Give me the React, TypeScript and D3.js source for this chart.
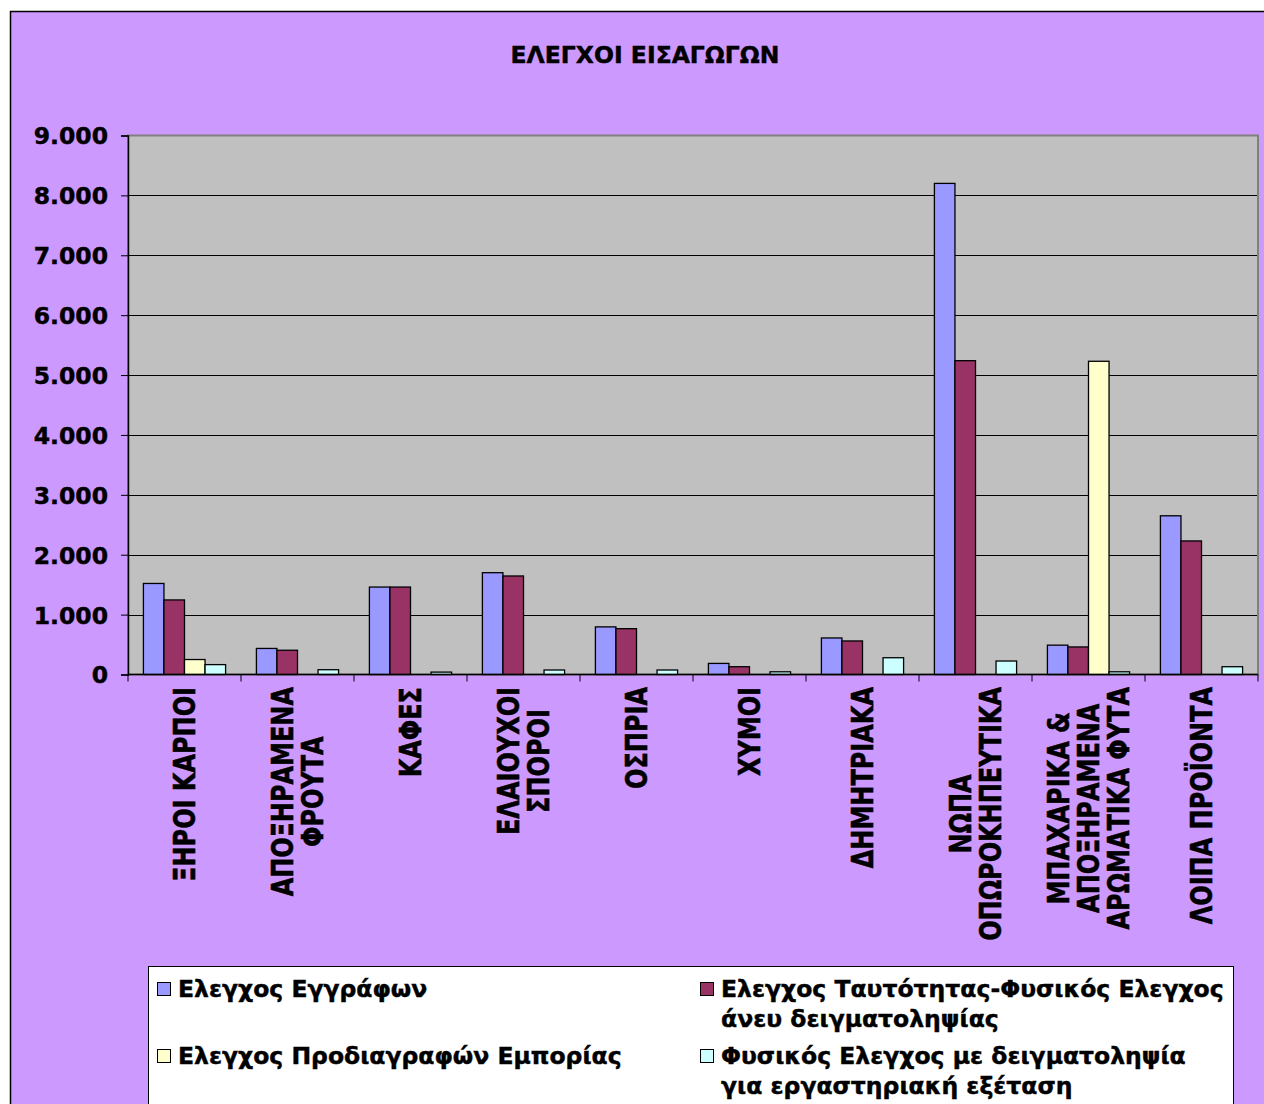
import React, { useEffect, useRef } from 'react';
import * as d3 from 'd3';

// category labels, one entry per line as they are wrapped in the chart
const categoryLines: string[][] = [
  ['ΞΗΡΟΙ ΚΑΡΠΟΙ'],
  ['ΑΠΟΞΗΡΑΜΕΝΑ', 'ΦΡΟΥΤΑ'],
  ['ΚΑΦΕΣ'],
  ['ΕΛΑΙΟΥΧΟΙ', 'ΣΠΟΡΟΙ'],
  ['ΟΣΠΡΙΑ'],
  ['ΧΥΜΟΙ'],
  ['ΔΗΜΗΤΡΙΑΚΑ'],
  ['ΝΩΠΑ', 'ΟΠΩΡΟΚΗΠΕΥΤΙΚΑ'],
  ['ΜΠΑΧΑΡΙΚΑ &', 'ΑΠΟΞΗΡΑΜΕΝΑ', 'ΑΡΩΜΑΤΙΚΑ ΦΥΤΑ'],
  ['ΛΟΙΠΑ ΠΡΟΪΟΝΤΑ'],
];

const seriesKeys = ['docs', 'identity', 'marketing', 'sampling'];
const seriesLines: string[][] = [
  ['Ελεγχος Εγγράφων'],
  ['Ελεγχος Ταυτότητας-Φυσικός Ελεγχος', 'άνευ δειγματοληψίας'],
  ['Ελεγχος Προδιαγραφών Εμπορίας'],
  ['Φυσικός Ελεγχος με δειγματοληψία', 'για εργαστηριακή εξέταση'],
];
const seriesColors = ['#9999FF', '#993366', '#FFFFCC', '#CCFFFF'];

const docChecks = [1520, 435, 1460, 1700, 795, 185, 610, 8200, 490, 2650];
const identityChecks = [1245, 405, 1460, 1645, 765, 130, 560, 5240, 460, 2230];
const marketingChecks = [250, 0, 0, 0, 0, 0, 0, 0, 5230, 0];
const samplingChecks = [165, 80, 40, 75, 75, 45, 280, 225, 45, 130];

const yTicks = [0, 1000, 2000, 3000, 4000, 5000, 6000, 7000, 8000, 9000];

const title = 'ΕΛΕΓΧΟΙ ΕΙΣΑΓΩΓΩΝ';
const FONT = '"DejaVu Sans", Verdana, sans-serif';

const ImportChecksChart: React.FC = () => {
  const ref = useRef<SVGSVGElement>(null);

  useEffect(() => {
    if (!ref.current) return;
    const svg = d3.select(ref.current);
    svg.selectAll('*').remove();

    const W = 1264;
    const H = 1104;
    const plot = { left: 128, right: 1258, top: 135.5, bottom: 674.5 };

    const catKeys = categoryLines.map((l) => l.join(' '));
    const values = [docChecks, identityChecks, marketingChecks, samplingChecks];

    const x = d3.scaleBand<string>().domain(catKeys).range([plot.left, plot.right]).padding(0);
    const xs = d3
      .scaleBand<string>()
      .domain(seriesKeys)
      .range([0, x.bandwidth()])
      .paddingInner(0)
      .paddingOuter(0.75);
    const y = d3.scaleLinear().domain([0, 9000]).range([plot.bottom, plot.top]);

    // heavier bold, closer to the Verdana Bold of the original
    const boldText = (sel: any, size: number) =>
      sel
        .style('font-family', FONT)
        .style('font-weight', 'bold')
        .style('font-size', `${size}px`)
        .attr('fill', '#000')
        .attr('stroke', '#000')
        .attr('stroke-width', 0.45);

    svg.append('rect').attr('width', W).attr('height', H).attr('fill', '#fff');

    // outer chart area
    svg
      .append('rect')
      .attr('x', 10.5)
      .attr('y', 11.5)
      .attr('width', 1300)
      .attr('height', 1200)
      .attr('fill', '#CC99FF')
      .attr('stroke', '#000')
      .attr('stroke-width', 1.5);

    boldText(
      svg.append('text').attr('x', 645).attr('y', 63).attr('text-anchor', 'middle'),
      23.5
    ).text(title);

    // plot area
    svg
      .append('rect')
      .attr('x', plot.left)
      .attr('y', plot.top)
      .attr('width', plot.right - plot.left)
      .attr('height', plot.bottom - plot.top)
      .attr('fill', '#C0C0C0');

    svg
      .append('g')
      .selectAll('line')
      .data(yTicks.filter((t) => t > 0 && t < 9000))
      .enter()
      .append('line')
      .attr('x1', plot.left)
      .attr('x2', plot.right)
      .attr('y1', (d) => Math.round(y(d)) + 0.5)
      .attr('y2', (d) => Math.round(y(d)) + 0.5)
      .attr('stroke', '#000')
      .attr('stroke-width', 1);

    svg
      .append('rect')
      .attr('x', plot.left)
      .attr('y', plot.top)
      .attr('width', plot.right - plot.left)
      .attr('height', plot.bottom - plot.top)
      .attr('fill', 'none')
      .attr('stroke', '#808080')
      .attr('stroke-width', 2);

    // bars
    seriesKeys.forEach((key, si) => {
      svg
        .append('g')
        .selectAll('rect')
        .data(values[si].map((v, i) => ({ v, cat: catKeys[i] })).filter((d) => d.v > 0))
        .enter()
        .append('rect')
        .attr('x', (d) => (x(d.cat) as number) + (xs(key) as number))
        .attr('y', (d) => y(d.v))
        .attr('width', xs.bandwidth())
        .attr('height', (d) => y(0) - y(d.v))
        .attr('fill', seriesColors[si])
        .attr('stroke', '#000')
        .attr('stroke-width', 1.3);
    });

    // y axis
    const yAxis = d3
      .axisLeft(y)
      .tickValues(yTicks)
      .tickSize(7)
      .tickPadding(13)
      .tickFormat((d) => d3.format(',')(d as number).replace(/,/g, '.'));
    const gy = svg.append('g').attr('transform', `translate(${plot.left},0)`).call(yAxis);
    gy.select('.domain').attr('stroke', '#000').attr('stroke-width', 1.5);
    gy.selectAll('.tick line').attr('stroke', '#000');
    boldText(gy.selectAll('.tick text'), 23.5).attr('dy', '0.36em');

    // x axis line + boundary ticks
    svg
      .append('line')
      .attr('x1', plot.left)
      .attr('x2', plot.right)
      .attr('y1', plot.bottom)
      .attr('y2', plot.bottom)
      .attr('stroke', '#000')
      .attr('stroke-width', 1.5);
    const boundaries = catKeys.map((c) => x(c) as number).concat([plot.right]);
    svg
      .append('g')
      .selectAll('line')
      .data(boundaries)
      .enter()
      .append('line')
      .attr('x1', (d) => d)
      .attr('x2', (d) => d)
      .attr('y1', plot.bottom)
      .attr('y2', plot.bottom + 7)
      .attr('stroke', '#000');

    // rotated category labels
    const stretch = 1.25;
    const fs = 24;
    const pitch = 30 / stretch;
    const cap = fs * 0.729;
    categoryLines.forEach((lines, ci) => {
      const cx = (x(catKeys[ci]) as number) + x.bandwidth() / 2;
      const g = svg
        .append('g')
        .attr('transform', `translate(${cx},687) rotate(-90) scale(1,${stretch})`);
      const texts = boldText(
        g.selectAll('text').data(lines).enter().append('text').attr('text-anchor', 'middle'),
        fs
      )
        .attr('y', (_d: string, i: number) => (i - (lines.length - 1) / 2) * pitch + cap / 2)
        .text((d: string) => d);
      let maxLen = 0;
      texts.each(function (this: SVGTextElement) {
        maxLen = Math.max(maxLen, this.getComputedTextLength());
      });
      texts.attr('x', -maxLen / 2);
    });

    // legend
    svg
      .append('rect')
      .attr('x', 148.5)
      .attr('y', 966.5)
      .attr('width', 1085)
      .attr('height', 200)
      .attr('fill', '#fff')
      .attr('stroke', '#000')
      .attr('stroke-width', 1);

    const colX = [157, 700];
    const rowY = [982, 1049];
    seriesKeys.forEach((_key, si) => {
      const lx = colX[si % 2];
      const ly = rowY[Math.floor(si / 2)];
      const g = svg.append('g').attr('transform', `translate(${lx},${ly})`);
      g.append('rect')
        .attr('x', 0.5)
        .attr('y', 0.5)
        .attr('width', 13)
        .attr('height', 13)
        .attr('fill', seriesColors[si])
        .attr('stroke', '#000')
        .attr('stroke-width', 1);
      boldText(
        g.selectAll('text').data(seriesLines[si]).enter().append('text').attr('x', 21),
        23.5
      )
        .attr('y', (_d: string, i: number) => 15 + i * 30)
        .text((d: string) => d);
    });
  }, []);

  return (
    <svg
      ref={ref}
      width={1264}
      height={1104}
      style={{ position: 'absolute', left: 0, top: 0, display: 'block' }}
    ></svg>
  );
};

export default function App() {
  return <ImportChecksChart />;
}
